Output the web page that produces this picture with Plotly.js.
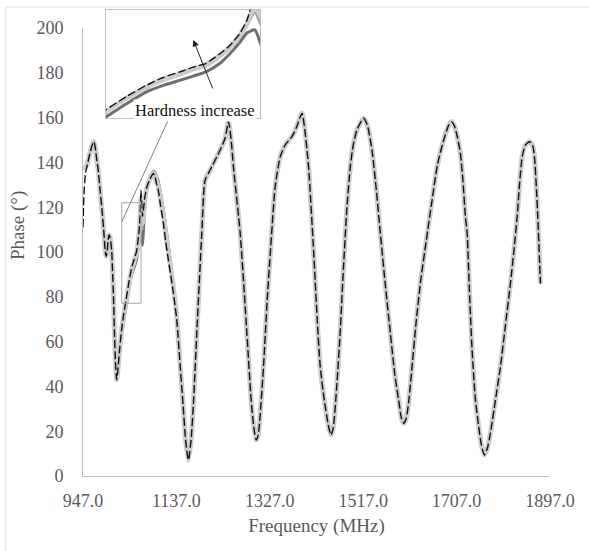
<!DOCTYPE html>
<html><head><meta charset="utf-8">
<script src="https://cdn.plot.ly/plotly-3.0.1.min.js"></script>
<style>html,body{margin:0;padding:0;background:#fff;overflow:hidden}#chart{width:589px;height:551px}</style>
</head><body><div id="chart"></div>
<script>
// Frequency (MHz) where the hardness series differ
const headFreq = [947, 949, 952, 956, 961, 966, 969, 972, 975, 978, 982, 986, 989, 992, 994, 996, 998, 1000, 1002, 1004, 1005.5, 1007, 1009, 1011, 1013, 1015.5, 1018, 1022, 1026, 1030, 1033, 1036, 1040, 1044, 1047, 1050.5, 1053, 1055.5, 1058, 1060, 1062, 1063.5, 1065, 1066.5, 1068, 1070, 1073, 1077, 1083, 1087, 1090, 1093, 1096, 1100, 1105, 1110.5, 1115, 1120.7, 1126, 1130.9, 1137.8];
// Phase (deg) per series in that range
const lightHead = [137, 137.5, 138, 139.5, 144, 148, 149.3, 146.5, 141, 136.6, 127, 118, 110, 101, 98, 100, 105, 107.6, 106.5, 103.5, 100, 92, 80, 64, 51, 43, 47.5, 57.5, 65.7, 72, 76, 79.8, 85.3, 90, 93, 95.5, 97.5, 99.2, 102.8, 106.3, 111.3, 116.5, 124, 118, 113, 117, 123.5, 128.8, 132.6, 134.5, 135.4, 134.4, 132, 129.5, 123, 116, 108.5, 100, 92, 84, 71];
const darkHead = [137, 137.5, 138, 139.5, 144, 148, 149.3, 146.5, 141, 136.6, 127, 118, 110, 101, 98, 100, 105, 107.6, 106.5, 103.5, 100, 92, 80, 64, 51, 43, 47, 56, 63.5, 69.5, 73.5, 77.5, 83, 88, 90.5, 92.8, 94.5, 96.3, 99.5, 103.5, 108.3, 112.5, 113.7, 106, 103, 110, 121, 128, 133, 135, 136, 135.6, 134, 131.5, 126, 119, 111.5, 102.5, 93.5, 85, 71];
const midHead = [137, 137.5, 138, 139.5, 144, 148, 149.3, 146.5, 141, 136.6, 127, 118, 110, 101, 98, 100, 105, 107.6, 106.5, 103.5, 100, 92, 80, 64, 51, 43, 47.5, 57, 65, 71.5, 75.5, 79.5, 85, 89.8, 92.6, 95, 97, 98.6, 102, 105.8, 110.5, 115.5, 121, 114, 110, 115, 123, 128.5, 132.8, 134.6, 135.5, 134.8, 132.5, 129.5, 123, 116, 108.5, 100, 91.5, 83.5, 70.5];
const dashHead = [111, 126, 135, 139, 144, 148, 149.3, 146.5, 141, 136.6, 127, 118, 110, 101, 98, 100, 105, 107.6, 106.5, 103.5, 100, 92, 80, 64, 51, 43, 47.5, 57.7, 66, 72.5, 76.5, 80.5, 86, 90.8, 93.8, 96.3, 98.2, 99.8, 103.5, 107, 112, 118, 127.7, 121, 115.8, 119, 124.7, 129, 132.5, 134.2, 135.1, 134, 131, 127.7, 120.5, 112.9, 105, 96.4, 89, 81.7, 69.6];
// Shared part where all series coincide
const tailFreq = [1144.5, 1150.6, 1155.7, 1161.4, 1166.9, 1172, 1178.5, 1188.7, 1195.4, 1205.6, 1226, 1236.2, 1242.9, 1248.4, 1253, 1266.7, 1280.4, 1289, 1295.2, 1299.3, 1303.4, 1307.4, 1314.2, 1321.7, 1327.8, 1338, 1348.2, 1358.4, 1372, 1380.8, 1392.4, 1397, 1405.8, 1416, 1423.5, 1429.6, 1437.8, 1445.9, 1451.4, 1456, 1463.6, 1470.4, 1477, 1483.6, 1490.7, 1496.8, 1504.3, 1517.8, 1525.3, 1534.9, 1543.7, 1551.8, 1562, 1572.2, 1581.4, 1589.1, 1594.6, 1599.3, 1604.8, 1609.9, 1616.4, 1624.1, 1633.3, 1645.5, 1657.1, 1667.9, 1680.7, 1690.3, 1696.4, 1702.5, 1708.6, 1714.7, 1719.8, 1724.9, 1728.4, 1733, 1738.5, 1745.3, 1752, 1757.5, 1763.6, 1769.7, 1775.8, 1786, 1796.2, 1806.4, 1816.5, 1823.7, 1830.2, 1834.9, 1840.4, 1847.1, 1855.2, 1861.4, 1865.4, 1869.5, 1872.1, 1875.6, 1877.6];
const tailPhase = [49.6, 31.7, 16.1, 7.1, 16.1, 33.9, 63.8, 108.5, 132.1, 136.6, 145.5, 150.9, 158.2, 150, 138, 108.5, 63.8, 33.9, 20.5, 16.1, 18.3, 27.2, 48.8, 78.6, 98.7, 129.2, 142.5, 147.8, 151.5, 155.4, 161.9, 156.7, 138, 100.9, 69.6, 48.8, 33.9, 22.8, 18.3, 21.4, 41.4, 65.2, 93.4, 118.8, 138, 147.8, 154.5, 159.7, 156.7, 145.5, 127.7, 108.5, 85.3, 63.8, 45.1, 33.9, 25.9, 23.5, 25.9, 33.9, 48.8, 67.4, 86, 105.4, 123.2, 138.8, 150, 156.3, 158.2, 156.3, 151.3, 144.1, 132.1, 115.8, 108.5, 83, 56.3, 33.9, 22, 13.8, 9.4, 12.5, 19.1, 33.9, 48.8, 67.4, 86, 100.9, 115.8, 129.9, 142.5, 147.8, 149.2, 147.8, 142.5, 127.7, 115.8, 96.4, 86];
const tickVals = [947, 1137, 1327, 1517, 1707, 1897];
const xTitle = 'Frequency (MHz)';
const yTitle = 'Phase (°)';
const insetLabel = 'Hardness increase';

// draw order: dark, mid, light band, dashed on top
const styles = [
  {y: darkHead, color: '#6e6e6e', width: 3, dash: 'solid'},
  {y: midHead, color: '#a3a3a3', width: 2.5, dash: 'solid'},
  {y: lightHead, color: '#cccccc', width: 5, dash: 'solid'},
  {y: dashHead, color: '#111111', width: 1.4, dash: '8px,3px'}
];
const xs = headFreq.concat(tailFreq);
const traces = [];
[['x','y'],['x2','y2']].forEach(function(ax){
  styles.forEach(function(s){
    traces.push({type:'scatter', mode:'lines', x: xs, y: s.y.concat(tailPhase),
      xaxis: ax[0], yaxis: ax[1], hoverinfo:'skip', showlegend:false,
      line:{color:s.color, width:s.width, dash:s.dash, shape:'spline', smoothing:0.6}});
  });
});

const serif = '"Liberation Serif", "Times New Roman", serif';
const gray = '#595959';
const layout = {
  width: 589, height: 551,
  margin: {l: 83, r: 39, t: 10, b: 75},
  paper_bgcolor: '#ffffff', plot_bgcolor: '#ffffff',
  font: {family: serif, color: gray, size: 18},
  showlegend: false,
  xaxis: {range: [947, 1897], tickvals: tickVals, tickformat: '.1f', showgrid: false, zeroline: false,
    showline: true, linecolor: '#bfbfbf', linewidth: 1, ticks: '', ticklabelstandoff: 8,
    tickfont: {family: serif, size: 18, color: gray},
    title: {text: xTitle, font: {family: serif, size: 19, color: gray}, standoff: 9}},
  yaxis: {range: [0, 200], dtick: 20, domain: [0, 0.9614], showgrid: false, zeroline: false,
    showline: true, linecolor: '#bfbfbf', linewidth: 1, ticks: '', ticklabelstandoff: 15,
    tickfont: {family: serif, size: 18, color: gray}},
  xaxis2: {domain: [0.0493, 0.379], range: [1036, 1066], anchor: 'y2', showgrid: false, zeroline: false,
    showline: true, mirror: true, linecolor: '#bfbfbf', ticks: '', showticklabels: false},
  yaxis2: {domain: [0.768, 1.0], range: [77, 122], anchor: 'x2', showgrid: false, zeroline: false,
    showline: true, mirror: true, linecolor: '#bfbfbf', ticks: '', showticklabels: false},
  shapes: [
    {type: 'rect', xref: 'paper', yref: 'paper', x0: -0.1649, x1: 2, y0: -1, y1: 1.0064,
      line: {color: '#d9d9d9', width: 1}, fillcolor: 'rgba(0,0,0,0)', layer: 'below'},
    {type: 'rect', xref: 'x', yref: 'y', x0: 1025.8, x1: 1065.1, y0: 77.1, y1: 122,
      line: {color: '#a6a6a6', width: 1}, fillcolor: 'rgba(0,0,0,0)'},
    {type: 'line', xref: 'x', yref: 'y', x0: 1025.8, y0: 113.4, x1: 1122.1, y1: 159.8,
      line: {color: '#7f7f7f', width: 1}}
  ],
  annotations: [
    {xref: 'paper', yref: 'paper', x: -0.139, y: 0.5365, text: yTitle, textangle: -90,
      showarrow: false, xanchor: 'center', yanchor: 'middle', font: {family: serif, size: 19, color: gray}},
    {xref: 'paper', yref: 'paper', x: 0.2398, y: 0.7843, text: insetLabel, showarrow: false,
      xanchor: 'center', yanchor: 'middle', bgcolor: '#ffffff', borderpad: 1,
      font: {family: serif, size: 16.5, color: '#111111'}},
    {xref: 'paper', yref: 'paper', x: 0.2362, y: 0.9356, ax: 20, ay: 50, text: '', showarrow: true,
      arrowhead: 2, arrowsize: 1.3, arrowwidth: 1, arrowcolor: '#222222'}
  ]
};
Plotly.newPlot('chart', traces, layout, {staticPlot: true, displayModeBar: false});
</script></body></html>
